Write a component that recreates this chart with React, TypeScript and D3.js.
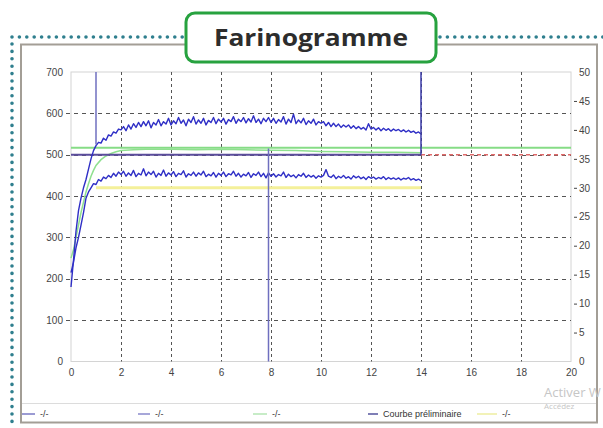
import React, { useEffect, useRef } from 'react';
import * as d3 from 'd3';

// time axis sampled every 0.1 min, 0 -> 14
const sampleStep = 0.1;

const upperCurve = [
  180, 245, 315, 365, 395, 420, 440, 465, 490, 510,
  522, 530, 528, 540, 535, 548, 545, 555, 552, 562,
  560, 568, 558, 572, 562, 575, 566, 578, 568, 580,
  570, 582, 565, 578, 572, 585, 570, 580, 574, 588,
  572, 582, 575, 590, 576, 584, 570, 586, 578, 592,
  574, 584, 576, 588, 572, 583, 578, 590, 575, 586,
  579, 588, 574, 585, 580, 592, 576, 586, 580, 590,
  577, 587, 579, 594, 578, 586, 575, 588, 580, 590,
  578, 588, 576, 585, 579, 592, 574, 586, 578, 598,
  575, 584, 577, 588, 573, 582, 576, 586, 572, 580,
  576, 580, 570, 578, 568, 576, 568, 574, 566, 572,
  567, 572, 564, 570, 563, 568, 562, 566, 560, 575,
  562, 566, 560, 565, 558, 564, 559, 563, 557, 562,
  558, 561, 556, 560, 555, 559, 554, 557, 552, 555,
  550,
];

const lowerCurve = [
  215, 240, 275, 300, 330, 360, 395, 410, 420, 430,
  428, 440, 436, 446, 442, 450, 445, 455, 448, 458,
  452, 460, 448, 456, 450, 462, 447, 455, 451, 466,
  449, 458, 452, 460, 446, 455, 450, 463, 448, 456,
  451, 459, 447, 455, 452, 461, 446, 454, 450, 458,
  448, 456, 451, 460, 447, 453, 449, 457, 446, 455,
  450, 458, 447, 454, 451, 460, 448, 455, 446, 453,
  449, 457, 445, 454, 450, 458, 447, 455, 444, 456,
  448, 454, 446, 452, 449, 458, 445, 453, 447, 451,
  444, 452, 448, 455, 445, 451, 446, 450, 443, 449,
  446, 450, 464, 448, 445, 451, 442, 448, 444, 450,
  443, 447, 441, 449, 444, 448, 442, 446, 440, 447,
  443, 446, 441, 445, 442, 447, 440, 445, 441, 444,
  440, 444, 439, 443, 441, 445, 439, 442, 438, 441,
  437,
];

const greenTime = [0, 0.1, 0.2, 0.3, 0.4, 0.5, 0.6, 0.7, 0.8, 0.9, 1.0, 1.2, 1.4, 1.6, 1.8, 2, 2.5, 3, 4, 5, 6, 7, 8, 9, 10, 11, 12, 13, 14];
const greenValues = [250, 270, 300, 330, 360, 385, 410, 430, 448, 462, 474, 488, 497, 503, 507, 510, 512, 513, 513, 512, 513, 512, 511, 510, 508, 507, 506, 506, 505];

const consistencyTarget = 500;
const toleranceLine = 517;
const yellowLevel = 420;
const yellowRange = [1, 14];

const markerTimes = [1, 14, 7.9];
const markerFrom = [700, 700, 515];
const markerTo = [525, 500, 0];

const leftTicks = [0, 100, 200, 300, 400, 500, 600, 700];
const rightTicks = [0, 5, 10, 15, 20, 25, 30, 35, 40, 45, 50];
const timeTicks = [0, 2, 4, 6, 8, 10, 12, 14, 16, 18, 20];
const gridRows = [100, 200, 300, 400, 500, 600];
const gridCols = [2, 4, 6, 8, 10, 12, 14, 16, 18];

const legendLabels = ['-/-', '-/-', '-/-', 'Courbe préliminaire', '-/-'];
const legendColors = ['#7a7ac4', '#8a8acc', '#b4e6b4', '#55559e', '#eeeea0'];
const legendX = [22, 138, 253, 368, 477];
const legendLen = [13, 12, 14, 10, 20];

const App = () => {
  const width = 603,
    height = 428,
    margin = { left: 71, top: 72, right: 32, bottom: 67 };

  const svgRef = useRef(null);

  useEffect(() => {
    const svg = d3.select(svgRef.current);
    svg.selectAll('*').remove();

    const x = d3.scaleLinear().domain([0, 20]).range([margin.left, width - margin.right]);
    const y = d3.scaleLinear().domain([0, 700]).range([height - margin.bottom + 0.5, margin.top]);
    const y2 = d3.scaleLinear().domain([0, 50]).range([height - margin.bottom + 0.5, margin.top]);

    // dotted teal border
    const dots = svg.append('g')
      .attr('stroke', '#2f7f8e')
      .attr('stroke-width', 3.6)
      .attr('stroke-linecap', 'round')
      .attr('stroke-dasharray', '0 7.4');
    dots.append('line').attr('x1', 12).attr('y1', 37).attr('x2', 186).attr('y2', 37);
    dots.append('line').attr('x1', 440).attr('y1', 37).attr('x2', 603).attr('y2', 37);
    dots.append('line').attr('x1', 12).attr('y1', 44).attr('x2', 12).attr('y2', 428);

    // inner window frame
    svg.append('rect')
      .attr('x', 21).attr('y', 44.5).attr('width', 576).attr('height', 378)
      .attr('fill', 'white').attr('stroke', '#a39e96').attr('stroke-width', 2);
    svg.append('line')
      .attr('x1', 22).attr('x2', 596).attr('y1', 403.5).attr('y2', 403.5)
      .attr('stroke', '#dcdcdc');

    // plot border
    svg.append('rect')
      .attr('x', margin.left).attr('y', margin.top)
      .attr('width', x(20) - x(0)).attr('height', y(0) - y(700))
      .attr('fill', 'none').attr('stroke', '#d4d4d4');

    // grid
    svg.append('g')
      .attr('stroke', '#555').attr('stroke-width', 1).attr('stroke-dasharray', '4,4')
      .selectAll('line').data(gridRows).join('line')
      .attr('x1', 66).attr('x2', x(20))
      .attr('y1', d => Math.round(y(d)) + 0.5).attr('y2', d => Math.round(y(d)) + 0.5);
    svg.append('g')
      .attr('stroke', '#555').attr('stroke-width', 1).attr('stroke-dasharray', '3,3')
      .selectAll('line').data(gridCols).join('line')
      .attr('x1', d => x(d) + 0.5).attr('x2', d => x(d) + 0.5)
      .attr('y1', y(700)).attr('y2', y(0));

    // reference lines
    svg.append('line')
      .attr('x1', x(yellowRange[0])).attr('x2', x(yellowRange[1]))
      .attr('y1', y(yellowLevel)).attr('y2', y(yellowLevel))
      .attr('stroke', '#f4f09a').attr('stroke-width', 3);
    svg.append('line')
      .attr('x1', x(0)).attr('x2', x(20))
      .attr('y1', y(toleranceLine)).attr('y2', y(toleranceLine))
      .attr('stroke', '#86dc86').attr('stroke-width', 2);
    svg.append('line')
      .attr('x1', x(14)).attr('x2', x(20))
      .attr('y1', y(consistencyTarget)).attr('y2', y(consistencyTarget))
      .attr('stroke', '#e06a6a').attr('stroke-width', 1.5).attr('stroke-dasharray', '4,3');

    const line = d3.line().x(d => x(d[0])).y(d => y(d[1]));

    svg.append('path')
      .datum(greenTime.map((t, i) => [t, greenValues[i]]))
      .attr('fill', 'none').attr('stroke', '#8fe08f').attr('stroke-width', 1.5)
      .attr('d', line);

    svg.append('line')
      .attr('x1', x(0)).attr('x2', x(14))
      .attr('y1', y(consistencyTarget)).attr('y2', y(consistencyTarget))
      .attr('stroke', '#5b4d9c').attr('stroke-width', 2);

    [upperCurve, lowerCurve].forEach(values => {
      svg.append('path')
        .datum(values.map((v, i) => [i * sampleStep, v]))
        .attr('fill', 'none').attr('stroke', '#2f2fc6').attr('stroke-width', 1.4)
        .attr('stroke-linejoin', 'round')
        .attr('d', line);
    });

    svg.append('g')
      .selectAll('line').data(markerTimes).join('line')
      .attr('x1', d => x(d)).attr('x2', d => x(d))
      .attr('y1', (d, i) => y(markerFrom[i])).attr('y2', (d, i) => y(markerTo[i]))
      .attr('stroke', (d, i) => (i === 1 ? '#3a3aa8' : '#6f6fbf'))
      .attr('stroke-width', 1.5);

    // axes
    const axisFont = g => g
      .attr('font-family', '"Liberation Sans", Arial, sans-serif')
      .attr('font-size', 10)
      .call(g => g.select('.domain').remove())
      .call(g => g.selectAll('text').attr('fill', '#444'))
      .call(g => g.selectAll('line').attr('stroke', '#444'));

    svg.append('g')
      .attr('transform', `translate(${margin.left},0)`)
      .call(d3.axisLeft(y).tickValues(leftTicks).tickSize(0).tickPadding(8))
      .call(axisFont);

    svg.append('g')
      .attr('transform', `translate(0,${y(0)})`)
      .call(d3.axisBottom(x).tickValues(timeTicks).tickSize(0).tickPadding(7))
      .call(axisFont);

    svg.append('g')
      .attr('transform', `translate(${x(20)},0)`)
      .call(d3.axisRight(y2).tickValues(rightTicks).tickSize(0).tickPadding(8))
      .call(axisFont)
      .call(g => g.selectAll('.tick')
        .filter(d => d > 0 && d < 50)
        .append('line')
        .attr('x1', 3).attr('x2', 6)
        .attr('stroke', '#444'));

    // legend
    const legend = svg.append('g')
      .attr('font-family', '"Liberation Sans", Arial, sans-serif')
      .attr('font-size', 9)
      .selectAll('g').data(legendLabels).join('g')
      .attr('transform', (d, i) => `translate(${legendX[i]},414)`);
    legend.append('line')
      .attr('x1', 0).attr('x2', (d, i) => legendLen[i])
      .attr('stroke', (d, i) => legendColors[i]).attr('stroke-width', 1.5);
    legend.append('text')
      .attr('x', (d, i) => legendLen[i] + 5).attr('dy', '0.35em')
      .attr('fill', '#333')
      .text(d => d);

    // watermark
    svg.append('text')
      .attr('x', 544).attr('y', 397)
      .attr('font-family', '"Open Sans", sans-serif').attr('font-size', 13)
      .attr('fill', '#c6c6c6').text('Activer W');
    svg.append('text')
      .attr('x', 544).attr('y', 409)
      .attr('font-family', '"Open Sans", sans-serif').attr('font-size', 8)
      .attr('fill', '#c6c6c6').text('Accédez');

    // title box
    svg.append('rect')
      .attr('x', 186).attr('y', 13).attr('width', 250).attr('height', 49).attr('rx', 9)
      .attr('fill', 'white').attr('stroke', '#27a23f').attr('stroke-width', 3);
    svg.append('text')
      .attr('x', 311).attr('y', 46)
      .attr('text-anchor', 'middle')
      .attr('font-family', '"Open Sans", sans-serif').attr('font-weight', 700)
      .attr('font-size', 24).attr('fill', '#2d2d2d')
      .attr('textLength', 194).attr('lengthAdjust', 'spacingAndGlyphs')
      .text('Farinogramme');
  }, []);

  return (
    <svg ref={svgRef} width={width} height={height}
      style={{ position: 'absolute', left: 0, top: 0, background: 'white' }}></svg>
  );
};

export default App;
